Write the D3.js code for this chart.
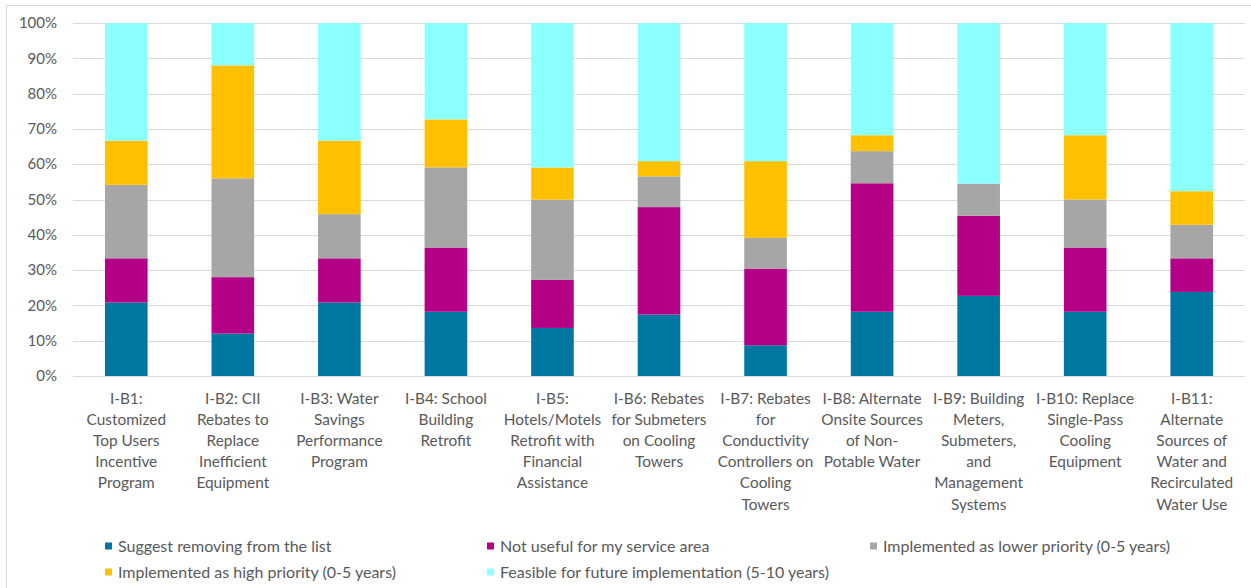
<!DOCTYPE html>
<html>
<head>
<meta charset="utf-8">
<script src="https://cdn.jsdelivr.net/npm/d3@7"></script>
<style>
  body { margin: 0; background: #fff; }
  text { font-family: Lato, "Open Sans", sans-serif; fill: #595959; }
</style>
</head>
<body>
<div id="chart"></div>
<script>
// categories, pre-wrapped as in the original
const categories = [
  ["I-B1:", "Customized", "Top Users", "Incentive", "Program"],
  ["I-B2: CII", "Rebates to", "Replace", "Inefficient", "Equipment"],
  ["I-B3: Water", "Savings", "Performance", "Program"],
  ["I-B4: School", "Building", "Retrofit"],
  ["I-B5:", "Hotels/Motels", "Retrofit with", "Financial", "Assistance"],
  ["I-B6: Rebates", "for Submeters", "on Cooling", "Towers"],
  ["I-B7: Rebates", "for", "Conductivity", "Controllers on", "Cooling", "Towers"],
  ["I-B8: Alternate", "Onsite Sources", "of Non-", "Potable Water"],
  ["I-B9: Building", "Meters,", "Submeters,", "and", "Management", "Systems"],
  ["I-B10: Replace", "Single-Pass", "Cooling", "Equipment"],
  ["I-B11:", "Alternate", "Sources of", "Water and", "Recirculated", "Water Use"]
];

const seriesNames = [
  "Suggest removing from the list",
  "Not useful for my service area",
  "Implemented as lower priority (0-5 years)",
  "Implemented as high priority (0-5 years)",
  "Feasible for future implementation (5-10 years)"
];
const seriesColors = ["#0077a0", "#b30086", "#a6a6a6", "#ffc000", "#8cffff"];

// percent values per series
const suggestRemoving = [20.8, 12.0, 20.8, 18.2, 13.6, 17.4, 8.7, 18.2, 22.7, 18.2, 23.8];
const notUseful       = [12.5, 16.0, 12.5, 18.2, 13.6, 30.4, 21.7, 36.4, 22.7, 18.2, 9.5];
const lowerPriority   = [20.8, 28.0, 12.5, 22.7, 22.7, 8.7, 8.7, 9.1, 9.1, 13.6, 9.5];
const highPriority    = [12.5, 32.0, 20.8, 13.6, 9.1, 4.3, 21.7, 4.5, 0, 18.2, 9.5];
const futureFeasible  = [33.3, 12.0, 33.3, 27.3, 40.9, 39.1, 39.1, 31.8, 45.5, 31.8, 47.6];

const yTicks = [0, 10, 20, 30, 40, 50, 60, 70, 80, 90, 100];

const allSeries = [suggestRemoving, notUseful, lowerPriority, highPriority, futureFeasible];
const rows = categories.map((c, i) => {
  const r = {key: i};
  allSeries.forEach((s, j) => r["s" + j] = s[i]);
  return r;
});
const keys = allSeries.map((s, j) => "s" + j);

const width = 1251, height = 588;
const svg = d3.select("#chart").append("svg")
  .attr("width", width).attr("height", height);

// chart outline
svg.append("rect")
  .attr("x", 6.5).attr("y", 5.5)
  .attr("width", width + 10).attr("height", height + 10)
  .attr("fill", "none").attr("stroke", "#d9d9d9");

const x = d3.scaleBand().domain(d3.range(categories.length))
  .range([73, 1245]).paddingInner(0.6).paddingOuter(0.3);
const y = d3.scaleLinear().domain([0, 100]).range([376, 23]);

// gridlines
svg.append("g").selectAll("line").data(yTicks).join("line")
  .attr("x1", 73).attr("x2", 1245)
  .attr("y1", d => Math.round(y(d)) + 0.5).attr("y2", d => Math.round(y(d)) + 0.5)
  .attr("stroke", "#d9d9d9").attr("stroke-width", 1);

// y labels
svg.append("g").selectAll("text").data(yTicks).join("text")
  .attr("x", 57).attr("y", d => y(d)).attr("dy", "0.35em")
  .attr("text-anchor", "end").style("font-size", "15px")
  .text(d => d + "%");

const stacked = d3.stack().keys(keys)(rows);
const normalize = d => {
  const tot = d3.sum(keys, k => d.data[k]);
  return [d[0] / tot * 100, d[1] / tot * 100];
};

svg.append("g").selectAll("g").data(stacked).join("g")
  .attr("fill", (d, i) => seriesColors[i])
  .selectAll("rect").data(d => d).join("rect")
  .attr("x", d => x(d.data.key))
  .attr("width", x.bandwidth())
  .attr("y", d => y(normalize(d)[1]))
  .attr("height", d => y(normalize(d)[0]) - y(normalize(d)[1]));

// category labels
const lab = svg.append("g").selectAll("text").data(categories).join("text")
  .attr("text-anchor", "middle").style("font-size", "15.4px")
  .attr("transform", (d, i) => `translate(${x(i) + x.bandwidth() / 2},404)`);
lab.selectAll("tspan").data(d => d).join("tspan")
  .attr("x", 0).attr("y", (d, i) => i * 21.1)
  .text(d => d);

// legend
const legendPos = [[105, 546], [487, 546], [870, 546], [105, 572], [487, 572]];
const leg = svg.append("g").selectAll("g").data(seriesNames).join("g")
  .attr("transform", (d, i) => `translate(${legendPos[i][0]},${legendPos[i][1]})`);
leg.append("rect").attr("x", 0).attr("y", -3.5).attr("width", 7).attr("height", 7)
  .attr("fill", (d, i) => seriesColors[i]);
leg.append("text").attr("x", 13).attr("dy", "0.35em").style("font-size", "16px")
  .text(d => d);
</script>
</body>
</html>
